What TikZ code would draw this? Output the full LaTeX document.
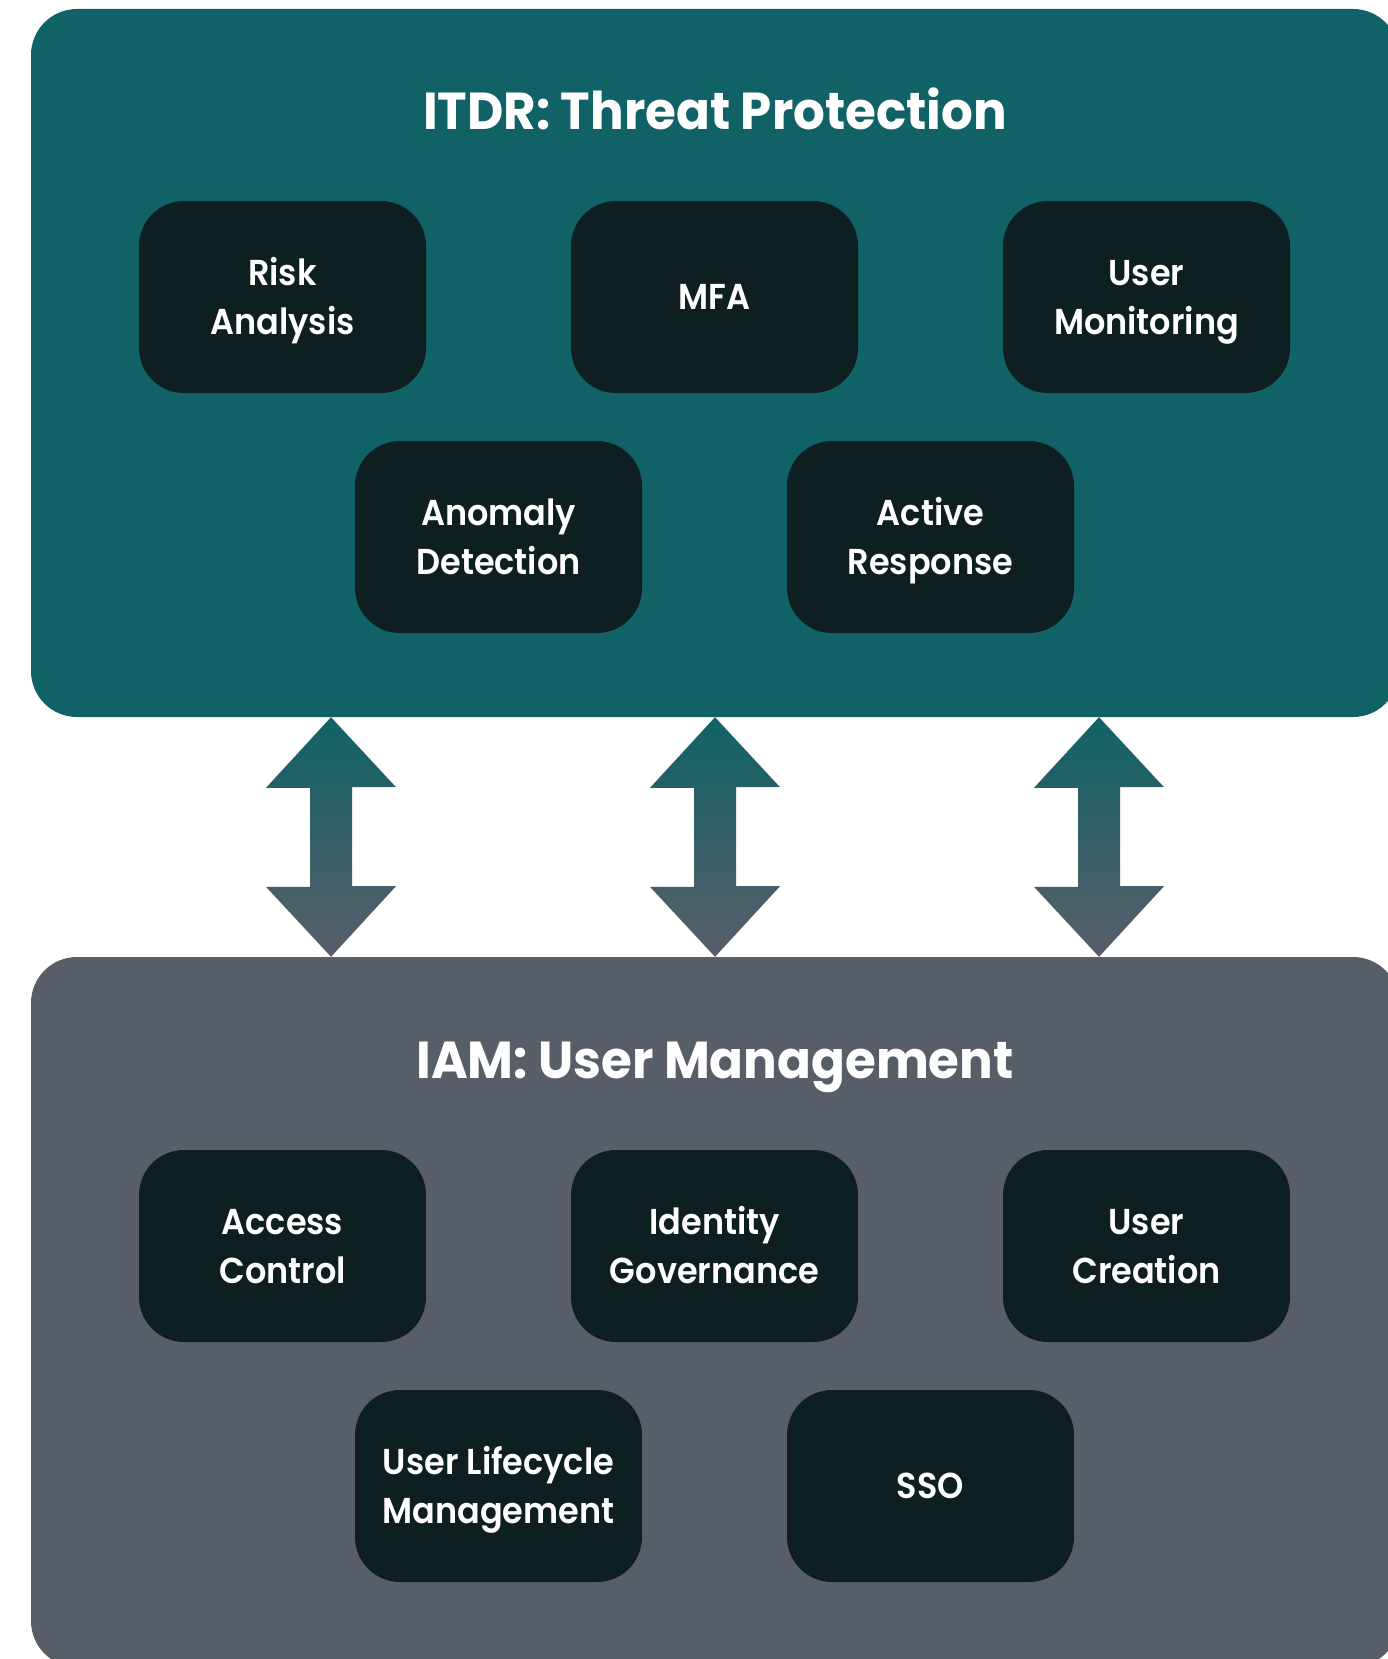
\documentclass[tikz,border=0pt]{standalone}
\usepackage{fontspec}
\setmainfont{Poppins}
\newfontfamily\headfont{Poppins}[UprightFont=* Bold, FakeStretch=0.96]
\newfontfamily\tilefont{Poppins}[UprightFont=* SemiBold, FakeStretch=0.93]
\definecolor{itdrteal}{RGB}{16,98,102}
\definecolor{iamgray}{RGB}{88,94,104}
\definecolor{tilebg}{RGB}{13,31,32}
% struts around the label block: the top one reaches 40pt above the first
% baseline (one line) or 40pt + 49pt (two lines), the bottom one 15pt below
\newcommand\tilebottom{\rule[-15pt]{0pt}{15pt}}
\tikzset{
  panel/.style={rounded corners=46pt, inner sep=0pt, draw=none},
  tile/.style={fill=tilebg, rounded corners=45pt, minimum width=287pt,
    minimum height=192pt, inner sep=0pt, text=white, align=center,
    font=\tilefont\fontsize{36}{49}\selectfont,
    execute at begin node={\rule{0pt}{#1}}, execute at end node=\tilebottom},
  tile/.default=40pt,
  twoline/.style={tile=89pt},
  heading/.style={anchor=base, text=white, inner sep=0pt,
    font=\headfont\fontsize{52}{60}\selectfont},
  linkarrow/.style={top color=itdrteal, bottom color=iamgray, draw=none}
}
\begin{document}
\begin{tikzpicture}[x=1pt,y=-1pt]
\useasboundingbox (0,0) rectangle (1387,1659);
\fill[white] (0,0) rectangle (1387,1659);

% the two layers
\node[panel, fill=itdrteal, minimum width=1368pt, minimum height=708pt] (itdr) at (715,363) {};
\node[panel, fill=iamgray, minimum width=1368pt, minimum height=710pt] (iam) at (715,1312) {};

\node[heading] (itdrtitle) at (715,129) {ITDR: Threat Protection};
\node[heading] (iamtitle) at (715,1078) {IAM: User Management};

% threat protection capabilities
\node[twoline] (risk) at (282.5,297) {Risk\\Analysis};
\node[tile] (mfa) at (714.5,297) {MFA};
\node[twoline] (monitor) at (1146.5,297) {User\\Monitoring};
\node[twoline] (anomaly) at (498.5,537) {Anomaly\\Detection};
\node[twoline] (response) at (930.5,537) {Active\\Response};

% user management capabilities
\node[twoline] (access) at (282.5,1246) {Access\\Control};
\node[twoline] (governance) at (714.5,1246) {Identity\\Governance};
\node[twoline] (creation) at (1146.5,1246) {User\\Creation};
\node[twoline] (lifecycle) at (498.5,1486) {User Lifecycle\\Management};
\node[tile] (sso) at (930.5,1486) {SSO};

% two-way block arrows between the layers
\foreach \x [count=\i] in {331,715,1099} {
  \coordinate (up\i) at (\x,0 |- itdr.south);
  \coordinate (dn\i) at (\x,0 |- iam.north);
  \shade[linkarrow] (up\i) -- ++(65,70) -- ++(-44,0) -- ++(0,99) -- ++(44,0)
    -- (dn\i) -- ++(-65,-70) -- ++(44,0) -- ++(0,-99) -- ++(-44,0) -- cycle;
}
\end{tikzpicture}
\end{document}
